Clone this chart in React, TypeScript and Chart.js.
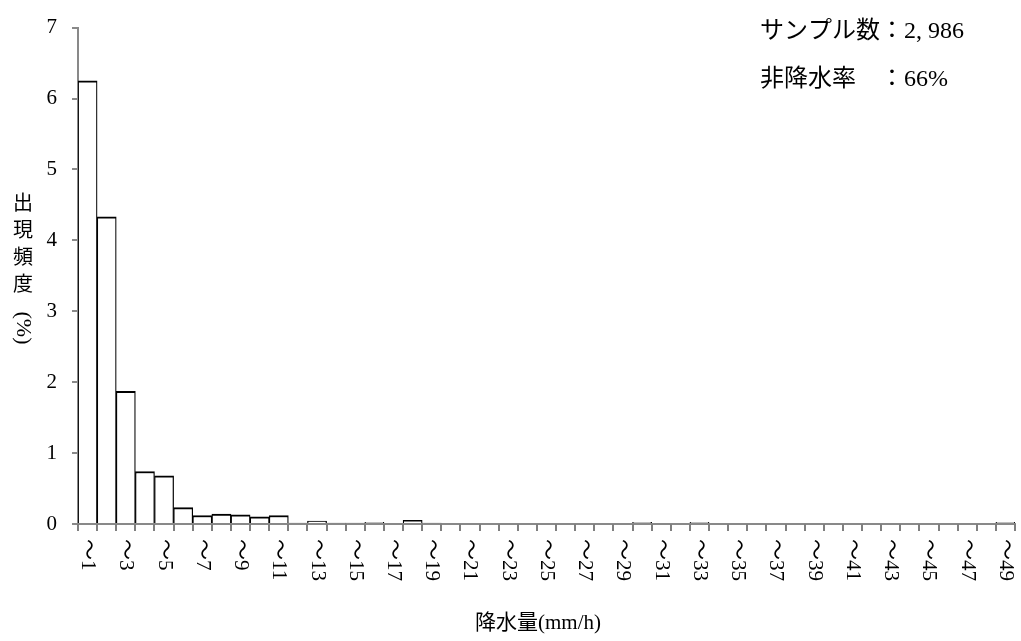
import React, { useEffect, useRef } from 'react';
import { Chart, registerables } from 'chart.js';

Chart.register(...registerables);

// Categories: rainfall (mm/h) classes
const categories = [
  '〜1', '〜2', '〜3', '〜4', '〜5', '〜6', '〜7', '〜8', '〜9', '〜10',
  '〜11', '〜12', '〜13', '〜14', '〜15', '〜16', '〜17', '〜18', '〜19', '〜20',
  '〜21', '〜22', '〜23', '〜24', '〜25', '〜26', '〜27', '〜28', '〜29', '〜30',
  '〜31', '〜32', '〜33', '〜34', '〜35', '〜36', '〜37', '〜38', '〜39', '〜40',
  '〜41', '〜42', '〜43', '〜44', '〜45', '〜46', '〜47', '〜48', '〜49',
];

// Frequency of occurrence (%)
const frequency = [
  6.25, 4.33, 1.87, 0.74, 0.68, 0.23, 0.12, 0.14, 0.13, 0.10,
  0.12, 0.014, 0.04, 0.012, 0.012, 0.025, 0, 0.05, 0.012, 0,
  0, 0, 0, 0, 0, 0, 0, 0, 0, 0.025,
  0, 0, 0.025, 0, 0, 0, 0, 0, 0, 0,
  0, 0, 0, 0, 0, 0, 0, 0, 0.025,
];

// Labels shown on the x axis
const xTickLabels = [
  '〜1', '〜3', '〜5', '〜7', '〜9', '〜11', '〜13', '〜15', '〜17', '〜19',
  '〜21', '〜23', '〜25', '〜27', '〜29', '〜31', '〜33', '〜35', '〜37', '〜39',
  '〜41', '〜43', '〜45', '〜47', '〜49',
];

const yMin = 0;
const yMax = 7;
const yStep = 1;

const yTitleChars = ['出', '現', '頻', '度'];
const yTitleUnit = '(%)';
const xTitle = '降水量(mm/h)';
const noteLabels = ['サンプル数', '非降水率'];
const noteValues = ['：2, 986', '：66%'];

const FONT = '"Liberation Serif", "Noto Sans CJK JP", serif';
const AXIS_GRAY = '#898989';

const textPlugin = {
  id: 'customText',
  afterDraw(chart: any) {
    const ctx = chart.ctx as CanvasRenderingContext2D;
    const xs = chart.scales.x;
    const area = chart.chartArea;
    ctx.save();

    // x axis tick marks at category boundaries
    const left = area.left;
    const step = (area.right - area.left) / categories.length;
    ctx.fillStyle = '#7f7f7f';
    for (let i = 0; i <= categories.length; i++) {
      const x = Math.round(xs.getPixelForValue(i) - step / 2);
      ctx.fillRect(x - 1, area.bottom, 2, 7);
    }

    ctx.fillStyle = '#000';

    // x tick labels, rotated clockwise
    ctx.font = `21px ${FONT}`;
    categories.forEach((c, i) => {
      if (!xTickLabels.includes(c)) return;
      const x = xs.getPixelForValue(i);
      ctx.save();
      ctx.translate(x, area.bottom + 15);
      ctx.rotate(Math.PI / 2);
      ctx.textAlign = 'left';
      ctx.textBaseline = 'middle';
      ctx.fillText(c, 0, 0);
      ctx.restore();
    });

    // x title
    ctx.font = `21px ${FONT}`;
    ctx.textAlign = 'center';
    ctx.textBaseline = 'middle';
    ctx.fillText(xTitle, 538, 623);

    // y title (vertical)
    ctx.font = `20px ${FONT}`;
    yTitleChars.forEach((ch, i) => {
      ctx.fillText(ch, 23, 205 + i * 27);
    });
    ctx.save();
    ctx.translate(23, 328);
    ctx.rotate(Math.PI / 2);
    ctx.font = `22px ${FONT}`;
    ctx.fillText(yTitleUnit, 0, 0);
    ctx.restore();

    // notes top-right
    ctx.font = `24px ${FONT}`;
    ctx.textAlign = 'left';
    const colonX = 760 + ctx.measureText(noteLabels[0]).width;
    ctx.fillText(noteLabels[0], 760, 32);
    ctx.fillText(noteValues[0], colonX, 32);
    ctx.fillText(noteLabels[1], 760, 80);
    ctx.fillText(noteValues[1], colonX, 80);

    ctx.restore();
  },
};

export default function App() {
  const canvasRef = useRef<HTMLCanvasElement | null>(null);

  useEffect(() => {
    const canvas = canvasRef.current;
    if (!canvas) return;
    const chart = new Chart(canvas, {
      type: 'bar',
      data: {
        labels: categories,
        datasets: [
          {
            data: frequency,
            backgroundColor: '#ffffff',
            borderColor: '#000000',
            borderWidth: { top: 2, left: 1.25, right: 1.25, bottom: 0 },
            borderSkipped: false,
            barPercentage: 1,
            categoryPercentage: 1,
          },
        ],
      },
      options: {
        animation: false,
        responsive: false,
        devicePixelRatio: 1,
        layout: { padding: { top: 17, right: 6, left: 0, bottom: 0 } },
        plugins: {
          legend: { display: false },
          tooltip: { enabled: false },
          title: { display: false },
        },
        scales: {
          x: {
            offset: true,
            grid: {
              offset: true,
              drawOnChartArea: false,
              drawTicks: false,
              color: AXIS_GRAY,
            },
            border: { display: true, color: AXIS_GRAY, width: 2 },
            ticks: { display: false, autoSkip: false },
            afterFit: (scale: any) => {
              scale.height = 117;
            },
          },
          y: {
            min: yMin,
            max: yMax,
            grid: {
              drawOnChartArea: false,
              drawTicks: true,
              tickLength: 6,
              color: AXIS_GRAY,
              lineWidth: 2,
            },
            border: { display: true, color: AXIS_GRAY, width: 2 },
            ticks: {
              stepSize: yStep,
              color: '#000',
              padding: 15,
              font: { family: FONT, size: 21 },
            },
            afterFit: (scale: any) => {
              scale.width = 78;
            },
          },
        },
      },
      plugins: [textPlugin],
    });
    return () => chart.destroy();
  }, []);

  return (
    <div style={{ position: 'absolute', left: 0, top: 0, width: 1021, height: 641, background: '#fff' }}>
      <canvas ref={canvasRef} width={1021} height={641} />
    </div>
  );
}
